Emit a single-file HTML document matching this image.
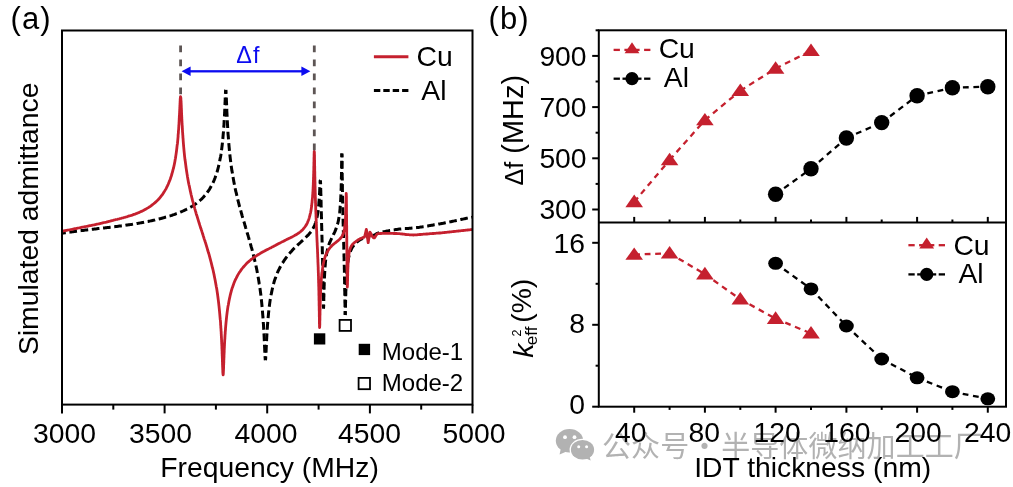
<!DOCTYPE html>
<html lang="en"><head><meta charset="utf-8"><title>Simulated admittance and IDT thickness dependence</title>
<style>
html,body{margin:0;padding:0;background:#fff;}
body{width:1013px;height:487px;overflow:hidden;font-family:"Liberation Sans", "Noto Sans CJK SC", sans-serif;}
svg{display:block;filter:blur(0.35px);}
text{font-family:"Liberation Sans", "Noto Sans CJK SC", sans-serif;fill:#000;}
.t{font-size:28.3px;}
.wm{font-family:"Noto Sans CJK SC","Liberation Sans",sans-serif;fill:#b2b2b2;}
</style></head><body>
<svg width="1013" height="487" viewBox="0 0 1013 487" role="img" aria-label="Simulated admittance of Cu and Al electrodes and IDT thickness dependence">
<rect width="1013" height="487" fill="#fff"/>
<g id="watermark" opacity="1">
<g fill="#b2b2b2">
<ellipse cx="569.5" cy="440.7" rx="13.7" ry="11.7"/>
<polygon points="560.6,449.5 559.6,454.4 566.5,451.6"/>
<ellipse cx="582.5" cy="449.8" rx="12.9" ry="11.1" fill="#fff"/>
<ellipse cx="582.5" cy="449.8" rx="11.6" ry="9.8"/>
<polygon points="586.2,458.6 590.6,460.6 589.6,456.4"/>
</g>
<g fill="#fff">
<circle cx="565" cy="437.2" r="1.9"/><circle cx="574.5" cy="437.2" r="1.9"/>
<circle cx="578.7" cy="446.7" r="1.5"/><circle cx="586.6" cy="446.7" r="1.5"/>
</g>
<text class="wm" y="456.6" font-size="29"><tspan x="602" letter-spacing="0.1">公众号</tspan><tspan x="704.4" text-anchor="middle">·</tspan><tspan x="721.2" letter-spacing="0.08">半导体微纳加工工厂</tspan></text>
</g>
<g id="panel-a">
<text x="10.6" y="29" font-size="31" letter-spacing="1.1">(a)</text>
<clipPath id="ca"><rect x="62.0" y="30.5" width="410.5" height="374.1"/></clipPath>
<g clip-path="url(#ca)" fill="none" stroke-linejoin="round">
<path d="M62.0 233.1 L62.9 233.0 L63.8 232.9 L64.8 232.8 L65.7 232.7 L66.6 232.6 L67.5 232.4 L68.5 232.3 L69.4 232.2 L70.3 232.1 L71.2 232.0 L72.2 231.8 L73.1 231.7 L74.0 231.6 L74.9 231.5 L75.9 231.3 L76.8 231.2 L77.7 231.1 L78.6 231.0 L79.5 230.9 L80.5 230.7 L81.4 230.6 L82.3 230.5 L83.2 230.4 L84.2 230.3 L85.1 230.1 L86.0 230.0 L86.9 229.9 L87.9 229.8 L88.8 229.7 L89.7 229.6 L90.6 229.5 L91.6 229.4 L92.5 229.3 L93.4 229.2 L94.3 229.1 L95.3 229.0 L96.2 228.9 L97.1 228.7 L98.0 228.6 L98.9 228.5 L99.9 228.4 L100.8 228.3 L101.7 228.2 L102.6 228.1 L103.6 228.0 L104.5 227.9 L105.4 227.8 L106.3 227.7 L107.3 227.6 L108.2 227.5 L109.1 227.4 L110.0 227.3 L111.0 227.2 L111.9 227.0 L112.8 226.9 L113.7 226.8 L114.6 226.7 L115.6 226.6 L116.5 226.5 L117.4 226.4 L118.3 226.2 L119.3 226.1 L120.2 226.0 L121.1 225.9 L122.0 225.8 L123.0 225.6 L123.9 225.5 L124.8 225.4 L125.7 225.2 L126.7 225.1 L127.6 225.0 L128.5 224.8 L129.4 224.7 L130.3 224.6 L131.3 224.4 L132.2 224.3 L133.1 224.1 L134.0 224.0 L135.0 223.8 L135.9 223.7 L136.8 223.5 L137.7 223.4 L138.7 223.2 L139.6 223.1 L140.5 222.9 L141.4 222.7 L142.4 222.5 L143.3 222.4 L144.2 222.2 L145.1 222.0 L146.0 221.8 L147.0 221.6 L147.9 221.5 L148.8 221.3 L149.7 221.1 L150.7 220.9 L151.6 220.7 L152.5 220.5 L153.4 220.3 L154.4 220.1 L155.3 219.8 L156.2 219.6 L157.1 219.4 L158.1 219.2 L159.0 219.0 L159.9 218.7 L160.8 218.5 L161.8 218.2 L162.7 218.0 L163.6 217.7 L164.5 217.5 L165.4 217.2 L166.4 217.0 L167.3 216.7 L168.2 216.4 L169.1 216.1 L170.1 215.9 L171.0 215.6 L171.9 215.3 L172.8 214.9 L173.8 214.6 L174.7 214.3 L175.6 214.0 L176.5 213.6 L177.5 213.3 L178.4 212.9 L179.3 212.6 L180.2 212.2 L181.1 211.8 L182.1 211.4 L183.0 211.0 L183.9 210.6 L184.8 210.2 L185.8 209.7 L186.7 209.2 L187.6 208.8 L188.5 208.3 L189.5 207.8 L190.4 207.3 L191.3 206.7 L192.2 206.2 L193.2 205.6 L194.1 205.0 L195.0 204.3 L195.9 203.7 L196.8 203.0 L197.8 202.3 L198.7 201.6 L199.6 200.8 L200.5 200.0 L201.5 199.1 L202.4 198.2 L203.3 197.3 L204.2 196.2 L205.1 195.3 L205.9 194.3 L206.6 193.4 L207.3 192.4 L208.0 191.4 L208.7 190.5 L209.3 189.6 L209.9 188.6 L210.5 187.5 L211.0 186.6 L211.5 185.7 L212.0 184.7 L212.6 183.7 L213.1 182.6 L213.5 181.7 L213.9 180.7 L214.3 179.8 L214.7 178.7 L215.1 177.7 L215.5 176.5 L215.9 175.4 L216.2 174.5 L216.6 173.5 L216.9 172.5 L217.2 171.5 L217.5 170.4 L217.8 169.3 L218.1 168.2 L218.4 167.0 L218.7 165.7 L219.0 164.3 L219.2 163.4 L219.4 162.5 L219.6 161.5 L219.8 160.4 L220.0 159.4 L220.2 158.3 L220.5 157.1 L220.7 155.9 L220.9 154.7 L221.1 153.3 L221.3 152.0 L221.5 150.5 L221.7 149.0 L221.9 147.4 L222.1 145.8 L222.3 144.0 L222.4 143.1 L222.5 142.1 L222.6 141.1 L222.7 140.1 L222.8 139.1 L222.9 138.0 L223.0 136.9 L223.1 135.7 L223.2 134.5 L223.3 133.3 L223.4 132.3 L223.5 131.4 L223.6 130.4 L223.6 129.4 L223.7 128.4 L223.8 127.4 L223.8 126.5 L223.9 125.6 L224.0 124.6 L224.0 123.6 L224.1 122.6 L224.1 121.6 L224.2 120.5 L224.3 119.6 L224.3 118.7 L224.4 117.7 L224.4 116.8 L224.5 115.8 L224.5 114.8 L224.6 113.7 L224.6 112.6 L224.7 111.6 L224.7 110.5 L224.8 109.6 L224.8 108.6 L224.8 107.7 L224.9 106.8 L224.9 105.8 L225.0 104.8 L225.0 103.9 L225.0 102.9 L225.1 101.9 L225.1 100.9 L225.2 99.9 L225.2 99.0 L225.2 98.0 L225.3 97.0 L225.3 96.1 L225.4 95.0 L225.4 94.0 L225.5 93.0 L225.5 92.0 L225.6 91.1 L225.7 90.2 L225.8 90.0" stroke="#000" stroke-width="3.0" stroke-dasharray="7.665 3.631" stroke-dashoffset="3.832"/>
<path d="M225.8 90.0 L226.0 90.9 L226.0 91.9 L226.1 92.9 L226.1 93.9 L226.2 95.0 L226.2 95.9 L226.3 96.8 L226.3 97.8 L226.4 98.8 L226.4 99.9 L226.4 100.9 L226.5 101.9 L226.5 103.0 L226.6 104.0 L226.6 105.1 L226.6 106.1 L226.7 107.1 L226.7 108.2 L226.8 109.2 L226.8 110.2 L226.8 111.1 L226.9 112.1 L226.9 113.0 L227.0 114.0 L227.0 114.9 L227.1 115.8 L227.1 116.9 L227.2 118.0 L227.2 119.1 L227.3 120.1 L227.3 121.1 L227.4 122.1 L227.4 123.1 L227.5 124.1 L227.5 125.0 L227.6 125.9 L227.6 126.8 L227.7 127.9 L227.7 128.9 L227.8 130.0 L227.9 130.9 L227.9 131.9 L228.0 132.9 L228.0 133.8 L228.1 134.7 L228.2 135.7 L228.3 136.7 L228.4 138.1 L228.5 139.5 L228.6 140.8 L228.7 142.1 L228.8 143.3 L228.9 144.5 L229.0 145.7 L229.1 146.8 L229.2 147.9 L229.3 149.0 L229.4 150.1 L229.5 151.1 L229.6 152.1 L229.7 153.1 L229.8 154.1 L229.9 155.0 L230.0 155.9 L230.1 156.8 L230.3 158.6 L230.5 160.3 L230.7 161.9 L230.9 163.5 L231.1 165.0 L231.3 166.5 L231.5 167.9 L231.7 169.3 L231.9 170.7 L232.2 172.0 L232.4 173.2 L232.6 174.5 L232.8 175.7 L233.0 176.9 L233.2 178.1 L233.4 179.2 L233.6 180.3 L233.8 181.4 L234.0 182.5 L234.2 183.5 L234.4 184.6 L234.6 185.6 L234.8 186.6 L235.0 187.6 L235.2 188.5 L235.4 189.5 L235.6 190.4 L235.8 191.4 L236.1 192.3 L236.3 193.2 L236.6 194.5 L236.9 195.8 L237.2 197.1 L237.5 198.4 L237.8 199.6 L238.1 200.8 L238.4 202.0 L238.7 203.2 L239.0 204.4 L239.3 205.6 L239.6 206.7 L240.0 207.9 L240.3 209.0 L240.6 210.1 L240.9 211.2 L241.2 212.3 L241.5 213.4 L241.8 214.5 L242.1 215.6 L242.4 216.6 L242.7 217.7 L243.0 218.7 L243.3 219.8 L243.6 220.8 L244.0 221.9 L244.3 222.9 L244.6 223.9 L244.9 225.0 L245.2 226.0 L245.5 227.0 L245.8 228.1 L246.1 229.1 L246.4 230.1 L246.7 231.2 L247.0 232.2 L247.3 233.2 L247.6 234.3 L248.0 235.3 L248.3 236.4 L248.6 237.4 L248.9 238.5 L249.2 239.5 L249.5 240.6 L249.8 241.7 L250.1 242.7 L250.4 243.8 L250.7 244.9 L251.0 246.0 L251.3 247.2 L251.7 248.3 L252.0 249.4 L252.3 250.6 L252.6 251.8 L252.9 252.9 L253.2 254.1 L253.5 255.4 L253.8 256.6 L254.1 257.8 L254.4 259.1 L254.7 260.4 L255.0 261.8 L255.3 263.1 L255.6 264.0 L255.8 264.9 L256.0 265.9 L256.2 266.8 L256.4 267.8 L256.6 268.8 L256.8 269.8 L257.0 270.8 L257.2 271.9 L257.4 272.9 L257.6 274.0 L257.8 275.1 L258.0 276.3 L258.2 277.4 L258.4 278.6 L258.6 279.8 L258.8 281.0 L259.0 282.3 L259.2 283.6 L259.5 284.9 L259.7 286.3 L259.9 287.7 L260.1 289.2 L260.3 290.7 L260.5 292.2 L260.7 293.8 L260.9 295.5 L261.1 297.3 L261.3 299.1 L261.4 300.0 L261.5 300.9 L261.6 301.9 L261.7 302.9 L261.8 303.9 L261.9 305.0 L262.0 306.0 L262.1 307.1 L262.2 308.2 L262.3 309.4 L262.4 310.6 L262.5 311.8 L262.6 313.1 L262.7 314.3 L262.8 315.7 L262.9 317.0 L263.0 318.0 L263.1 319.0 L263.1 319.9 L263.2 320.9 L263.3 321.9 L263.3 322.8 L263.4 323.8 L263.5 324.7 L263.5 325.8 L263.6 326.8 L263.6 327.8 L263.7 328.9 L263.8 329.8 L263.8 330.7 L263.9 331.7 L263.9 332.7 L264.0 333.6 L264.0 334.6 L264.1 335.7 L264.1 336.7 L264.2 337.8 L264.2 338.8 L264.3 339.9 L264.3 341.0 L264.4 342.2 L264.4 343.1 L264.5 344.0 L264.5 344.9 L264.5 345.9 L264.6 346.8 L264.6 347.7 L264.7 348.7 L264.7 349.6 L264.7 350.5 L264.8 351.4 L264.8 352.4 L264.9 353.5 L264.9 354.5 L265.0 355.5 L265.0 356.5 L265.1 357.5 L265.2 358.5 L265.2 359.4 L265.4 360.2" stroke="#000" stroke-width="3.0" stroke-dasharray="7.751 3.672" stroke-dashoffset="3.876"/>
<path d="M265.4 360.2 L265.6 359.3 L265.7 358.4 L265.7 357.3 L265.8 356.3 L265.9 355.4 L265.9 354.4 L266.0 353.4 L266.0 352.3 L266.1 351.2 L266.1 350.1 L266.2 349.0 L266.2 347.9 L266.3 346.8 L266.3 345.8 L266.4 344.7 L266.4 343.6 L266.5 342.6 L266.5 341.5 L266.6 340.5 L266.6 339.5 L266.7 338.5 L266.7 337.6 L266.8 336.6 L266.8 335.7 L266.9 334.8 L266.9 333.8 L267.0 332.8 L267.1 331.8 L267.1 330.8 L267.2 329.8 L267.2 328.9 L267.3 328.0 L267.4 327.0 L267.4 326.0 L267.5 325.0 L267.6 324.0 L267.7 323.1 L267.7 322.2 L267.8 321.3 L268.0 319.2 L268.1 318.1 L268.2 316.9 L268.3 315.8 L268.4 314.8 L268.5 313.7 L268.6 312.7 L268.7 311.7 L268.8 310.8 L268.9 309.9 L269.1 308.1 L269.3 306.4 L269.5 304.9 L269.7 303.4 L269.9 301.9 L270.1 300.6 L270.3 299.2 L270.5 298.0 L270.7 296.8 L270.9 295.6 L271.1 294.5 L271.4 293.4 L271.6 292.4 L271.8 291.4 L272.0 290.5 L272.2 289.5 L272.5 288.2 L272.8 286.9 L273.1 285.7 L273.4 284.5 L273.7 283.4 L274.0 282.3 L274.3 281.3 L274.6 280.3 L274.9 279.4 L275.3 278.4 L275.7 277.3 L276.1 276.1 L276.5 275.1 L276.9 274.0 L277.3 273.0 L277.7 272.1 L278.1 271.2 L278.6 270.1 L279.2 269.0 L279.7 268.0 L280.2 267.0 L280.7 266.1 L281.2 265.2 L281.8 264.1 L282.4 263.1 L283.1 262.2 L283.7 261.2 L284.4 260.2 L285.1 259.2 L285.8 258.2 L286.5 257.2 L287.3 256.3 L288.0 255.4 L288.8 254.4 L289.6 253.4 L290.4 252.4 L291.3 251.5 L292.1 250.6 L293.0 249.6 L293.9 248.6 L294.9 247.7 L295.8 246.8 L296.7 245.9 L297.6 245.0 L298.6 244.2 L299.5 243.3 L300.4 242.5 L301.3 241.6 L302.2 240.8 L303.2 239.9 L304.1 239.0 L305.0 238.2 L305.9 237.3 L306.9 236.3 L307.8 235.4 L308.7 234.4 L309.5 233.4 L310.4 232.4 L311.1 231.5 L311.8 230.5 L312.4 229.5 L313.0 228.5 L313.5 227.6 L314.0 226.6 L314.6 225.4 L315.0 224.4 L315.4 223.3 L315.7 222.4 L316.0 221.4 L316.3 220.4 L316.6 219.2 L316.9 217.8 L317.1 216.9 L317.3 215.8 L317.5 214.7 L317.7 213.4 L317.9 212.1 L318.1 211.1 L318.2 210.2 L318.3 209.3 L318.4 208.3 L318.5 207.4 L318.6 206.5 L318.7 205.5 L318.8 204.6 L318.9 203.7 L318.9 202.6 L319.0 201.7 L319.1 200.7 L319.2 199.7 L319.2 198.8 L319.3 197.8 L319.3 196.8 L319.4 195.8 L319.5 194.9 L319.5 193.9 L319.6 193.0 L319.6 192.0 L319.7 191.0 L319.7 189.9 L319.8 188.8 L319.8 187.7 L319.9 186.6 L319.9 185.5 L320.0 184.5 L320.0 183.4 L320.1 182.5 L320.1 181.5 L320.2 180.6 L320.4 180.4" stroke="#000" stroke-width="3.0" stroke-dasharray="7.816 3.702" stroke-dashoffset="3.908"/>
<path d="M320.4 180.4 L320.5 181.3 L320.5 182.2 L320.6 183.1 L320.6 184.0 L320.6 185.2 L320.7 186.2 L320.7 187.3 L320.7 188.4 L320.7 189.5 L320.8 190.7 L320.8 191.9 L320.8 193.1 L320.9 194.4 L320.9 195.6 L320.9 196.9 L321.0 198.1 L321.0 199.4 L321.0 200.6 L321.1 201.9 L321.1 203.2 L321.1 204.4 L321.1 205.7 L321.2 206.9 L321.2 208.1 L321.2 209.4 L321.3 210.6 L321.3 211.8 L321.3 213.0 L321.4 214.2 L321.4 215.4 L321.4 216.5 L321.5 217.7 L321.5 218.9 L321.5 220.1 L321.5 221.2 L321.6 222.4 L321.6 223.5 L321.6 224.6 L321.7 225.8 L321.7 226.9 L321.7 228.1 L321.8 229.2 L321.8 230.4 L321.8 231.5 L321.9 232.6 L321.9 233.8 L321.9 234.9 L321.9 236.0 L322.0 237.2 L322.0 238.3 L322.0 239.5 L322.1 240.6 L322.1 241.8 L322.1 242.9 L322.2 244.1 L322.2 245.3 L322.2 246.5 L322.3 247.6 L322.3 248.9 L322.3 250.1 L322.3 251.3 L322.4 252.5 L322.4 253.8 L322.4 255.0 L322.5 256.3 L322.5 257.6 L322.5 258.5 L322.6 259.8 L322.6 260.7 L322.6 261.6 L322.6 262.6 L322.6 263.5 L322.7 264.4 L322.7 265.3 L322.7 266.3 L322.7 267.3 L322.7 268.2 L322.8 269.2 L322.8 270.2 L322.8 271.3 L322.8 272.3 L322.8 273.3 L322.9 274.4 L322.9 275.5 L322.9 276.6 L322.9 277.7 L322.9 278.9 L323.0 280.0 L323.0 281.2 L323.0 282.4 L323.0 283.6 L323.0 284.8 L323.1 286.0 L323.1 287.3 L323.1 288.5 L323.1 289.8 L323.2 291.1 L323.2 292.4 L323.2 293.7 L323.2 295.0 L323.2 296.4 L323.3 297.7 L323.3 298.9 L323.3 300.2 L323.3 301.1 L323.3 302.1 L323.3 303.0 L323.4 303.9 L323.4 304.9 L323.4 305.8 L323.4 306.7 L323.5 307.6 L323.5 308.5" stroke="#000" stroke-width="3.0" stroke-dasharray="7.905 3.744" stroke-dashoffset="3.952"/>
<path d="M323.5 308.5 L323.6 307.6 L323.6 306.7 L323.7 305.8 L323.7 304.8 L323.7 303.6 L323.7 302.2 L323.8 301.3 L323.8 300.4 L323.8 299.4 L323.8 298.5 L323.8 297.6 L323.9 296.7 L323.9 295.4 L323.9 294.5 L324.0 293.2 L324.0 291.9 L324.0 290.7 L324.0 289.6 L324.1 288.5 L324.1 287.4 L324.1 286.3 L324.2 285.3 L324.2 284.4 L324.2 283.5 L324.3 282.3 L324.3 281.2 L324.4 280.1 L324.4 279.0 L324.4 278.0 L324.5 277.1 L324.5 276.2 L324.6 275.1 L324.6 274.1 L324.7 273.1 L324.7 272.2 L324.8 271.3 L324.8 270.3 L324.9 269.3 L325.0 268.4 L325.0 267.4 L325.1 266.4 L325.2 265.5 L325.3 264.6 L325.3 263.7 L325.4 262.7 L325.5 261.7 L325.6 260.8 L325.7 259.9 L325.8 258.9 L326.0 258.0 L326.2 256.6 L326.4 255.2 L326.6 254.0 L326.8 252.9 L327.0 251.8 L327.2 250.9 L327.5 249.5 L327.8 248.3 L328.1 247.2 L328.4 246.2 L328.7 245.3 L329.1 244.1 L329.5 243.0 L330.0 242.0 L330.4 241.0 L330.8 240.1 L331.3 239.0 L331.8 238.0 L332.3 236.9 L332.8 235.9 L333.3 234.8 L333.9 233.8 L334.4 232.7 L334.9 231.6 L335.3 230.6 L335.7 229.6 L336.1 228.6 L336.5 227.4 L336.8 226.5 L337.1 225.5 L337.4 224.4 L337.8 223.3 L338.1 222.0 L338.3 221.1 L338.5 220.1 L338.7 219.0 L338.9 217.8 L339.1 216.6 L339.3 215.2 L339.4 214.1 L339.5 213.2 L339.7 212.2 L339.8 211.3 L339.9 210.3 L340.0 209.4 L340.1 208.4 L340.1 207.4 L340.2 206.4 L340.3 205.5 L340.4 204.5 L340.4 203.5 L340.5 202.5 L340.6 201.6 L340.6 200.5 L340.7 199.6 L340.7 198.6 L340.8 197.6 L340.8 196.6 L340.9 195.4 L340.9 194.5 L341.0 193.5 L341.0 192.5 L341.0 191.4 L341.1 190.2 L341.1 189.0 L341.2 188.1 L341.2 187.1 L341.2 186.1 L341.2 185.0 L341.3 183.9 L341.3 182.7 L341.3 181.4 L341.4 180.2 L341.4 178.8 L341.4 177.9 L341.4 176.9 L341.5 175.9 L341.5 174.9 L341.5 173.8 L341.5 172.7 L341.5 171.5 L341.6 170.4 L341.6 169.2 L341.6 167.9 L341.6 166.6 L341.6 165.3 L341.7 164.0 L341.7 162.7 L341.7 161.7 L341.7 160.8 L341.7 159.9 L341.7 159.0 L341.8 158.1 L341.8 157.1 L341.8 156.2 L341.8 155.2 L341.8 154.3 L341.9 153.5" stroke="#000" stroke-width="3.0" stroke-dasharray="7.649 3.623" stroke-dashoffset="3.825"/>
<path d="M341.9 153.5 L341.9 154.4 L342.0 155.3 L342.0 156.2 L342.0 157.2 L342.0 158.1 L342.0 159.1 L342.0 160.0 L342.0 160.9 L342.1 161.9 L342.1 162.8 L342.1 163.7 L342.1 164.7 L342.1 165.6 L342.1 166.5 L342.1 168.2 L342.2 169.9 L342.2 171.6 L342.2 173.3 L342.2 174.9 L342.2 176.4 L342.3 178.0 L342.3 179.5 L342.3 181.0 L342.3 182.4 L342.3 183.8 L342.4 185.2 L342.4 186.6 L342.4 187.9 L342.4 189.2 L342.4 190.4 L342.5 191.7 L342.5 192.9 L342.5 194.0 L342.5 195.2 L342.5 196.3 L342.6 197.4 L342.6 198.5 L342.6 199.6 L342.6 200.7 L342.6 201.7 L342.7 202.7 L342.7 203.8 L342.7 204.7 L342.7 205.7 L342.8 206.7 L342.8 207.6 L342.8 208.6 L342.8 209.5 L342.8 210.4 L342.9 211.3 L342.9 212.5 L342.9 213.6 L342.9 214.7 L343.0 215.7 L343.0 216.8 L343.0 217.8 L343.0 218.9 L343.1 219.9 L343.1 221.0 L343.1 221.9 L343.1 223.0 L343.2 224.0 L343.2 225.0 L343.2 225.9 L343.2 226.9 L343.3 227.9 L343.3 228.9 L343.3 229.8 L343.3 230.8 L343.4 231.7 L343.4 232.7 L343.4 233.6 L343.4 234.6 L343.5 235.5 L343.5 236.5 L343.5 237.4 L343.5 238.3 L343.6 239.3 L343.6 240.2 L343.6 241.1 L343.7 242.1 L343.7 243.0 L343.7 244.0 L343.7 244.9 L343.8 245.9 L343.8 246.8 L343.8 247.8 L343.8 248.7 L343.9 249.7 L343.9 250.7 L343.9 251.7 L343.9 252.6 L344.0 253.6 L344.0 254.6 L344.0 255.6 L344.0 256.6 L344.1 257.6 L344.1 258.7 L344.1 259.7 L344.1 260.7 L344.2 261.8 L344.2 262.9 L344.2 264.0 L344.2 265.0 L344.3 266.2 L344.3 267.3 L344.3 268.2 L344.3 269.1 L344.4 270.0 L344.4 271.2 L344.4 272.2 L344.4 273.1 L344.4 274.1 L344.5 275.1 L344.5 276.1 L344.5 277.1 L344.5 278.2 L344.5 279.2 L344.6 280.3 L344.6 281.4 L344.6 282.5 L344.6 283.6 L344.6 284.7 L344.7 285.9 L344.7 287.0 L344.7 288.2 L344.7 289.4 L344.7 290.7 L344.8 291.9 L344.8 293.2 L344.8 294.5 L344.8 295.8 L344.9 297.1 L344.9 298.4 L344.9 299.8 L344.9 301.1 L344.9 302.5 L345.0 303.8 L345.0 305.1 L345.0 306.4 L345.0 307.4 L345.0 308.3 L345.0 309.2 L345.1 310.2 L345.1 311.1 L345.1 312.0 L345.1 312.9 L345.1 313.8 L345.2 314.7 L345.2 315.0" stroke="#000" stroke-width="3.0" stroke-dasharray="7.830 3.709" stroke-dashoffset="3.915"/>
<path d="M345.2 315.0 L345.3 314.1 L345.3 313.2 L345.4 312.3 L345.4 311.4 L345.4 310.4 L345.4 309.2 L345.4 308.3 L345.5 307.3 L345.5 306.3 L345.5 305.3 L345.5 304.4 L345.5 303.4 L345.6 302.5 L345.6 301.6 L345.6 300.7 L345.6 299.3 L345.7 298.0 L345.7 296.8 L345.7 295.6 L345.8 294.7 L345.8 293.7 L345.8 292.6 L345.8 291.6 L345.9 290.6 L345.9 289.6 L345.9 288.7 L346.0 287.5 L346.0 286.4 L346.1 285.3 L346.1 284.3 L346.1 283.3 L346.2 282.4 L346.2 281.5 L346.3 280.5 L346.3 279.6 L346.4 278.6 L346.4 277.6 L346.5 276.7 L346.5 275.7 L346.6 274.8 L346.7 273.9 L346.7 272.8 L346.8 271.9 L346.9 271.0 L347.0 270.0 L347.0 269.1 L347.1 268.1 L347.2 267.2 L347.3 266.2 L347.4 265.3 L347.5 264.4 L347.7 263.4 L347.8 262.4 L348.0 261.0 L348.2 259.8 L348.4 258.7 L348.6 257.7 L348.8 256.8 L349.1 255.5 L349.5 254.3 L349.8 253.3 L350.1 252.4 L350.5 251.3 L350.9 250.3 L351.3 249.4 L351.8 248.4 L352.3 247.4 L352.9 246.5 L353.7 245.5 L354.5 244.5 L355.4 243.5 L356.3 242.6 L357.3 241.8 L358.2 241.1 L359.1 240.4 L360.0 239.8 L360.9 239.3 L361.9 238.8 L362.8 238.3 L363.7 237.8 L364.6 237.4 L365.2 236.4 L365.7 235.4 L366.2 234.5 L367.0 235.5 L367.4 236.5 L367.8 237.5 L368.7 237.0 L369.2 236.0 L369.6 235.0 L370.5 234.4 L371.4 234.8 L372.3 235.1 L373.3 235.3 L374.2 235.4 L375.1 234.7 L376.0 234.1 L377.0 233.4 L377.9 233.1 L378.8 232.8 L379.7 232.6 L380.7 232.4 L381.6 232.2 L382.5 232.0 L383.4 231.8 L384.3 231.6 L385.3 231.4 L386.2 231.2 L387.1 231.0 L388.0 230.9 L389.0 230.7 L389.9 230.5 L390.8 230.4 L391.7 230.2 L392.7 230.1 L393.6 229.9 L394.5 229.8 L395.4 229.6 L396.4 229.5 L397.3 229.4 L398.2 229.2 L399.1 229.1 L400.0 229.0 L401.0 229.0 L401.9 228.9 L402.8 228.8 L403.7 228.7 L404.7 228.6 L405.6 228.6 L406.5 228.5 L407.4 228.4 L408.4 228.4 L409.3 228.3 L410.2 228.2 L411.1 228.2 L412.1 228.1 L413.0 228.0 L413.9 227.9 L414.8 227.8 L415.7 227.7 L416.7 227.6 L417.6 227.5 L418.5 227.4 L419.4 227.3 L420.4 227.1 L421.3 227.0 L422.2 226.9 L423.1 226.7 L424.1 226.6 L425.0 226.4 L425.9 226.3 L426.8 226.1 L427.8 226.0 L428.7 225.8 L429.6 225.6 L430.5 225.5 L431.4 225.3 L432.4 225.2 L433.3 225.0 L434.2 224.8 L435.1 224.7 L436.1 224.5 L437.0 224.4 L437.9 224.2 L438.8 224.0 L439.8 223.9 L440.7 223.7 L441.6 223.5 L442.5 223.4 L443.5 223.2 L444.4 223.0 L445.3 222.8 L446.2 222.6 L447.2 222.5 L448.1 222.3 L449.0 222.1 L449.9 221.9 L450.8 221.7 L451.8 221.5 L452.7 221.3 L453.6 221.1 L454.5 220.9 L455.5 220.7 L456.4 220.5 L457.3 220.3 L458.2 220.1 L459.2 219.9 L460.1 219.7 L461.0 219.5 L461.9 219.3 L462.9 219.1 L463.8 218.9 L464.7 218.7 L465.6 218.5 L466.5 218.3 L467.5 218.1 L468.4 217.9 L469.3 217.8 L470.2 217.6 L471.2 217.4 L472.1 217.2 L472.5 217.1" stroke="#000" stroke-width="3.0" stroke-dasharray="7.640 3.619" stroke-dashoffset="3.820"/>
<path d="M62.0 231.2 L62.9 231.0 L63.8 230.9 L64.8 230.7 L65.7 230.5 L66.6 230.4 L67.5 230.2 L68.5 230.0 L69.4 229.8 L70.3 229.7 L71.2 229.5 L72.2 229.3 L73.1 229.1 L74.0 228.9 L74.9 228.7 L75.9 228.6 L76.8 228.4 L77.7 228.2 L78.6 228.0 L79.5 227.8 L80.5 227.6 L81.4 227.4 L82.3 227.2 L83.2 227.1 L84.2 226.9 L85.1 226.7 L86.0 226.5 L86.9 226.3 L87.9 226.1 L88.8 225.9 L89.7 225.7 L90.6 225.6 L91.6 225.4 L92.5 225.2 L93.4 225.0 L94.3 224.8 L95.3 224.6 L96.2 224.4 L97.1 224.2 L98.0 224.0 L98.9 223.8 L99.9 223.6 L100.8 223.4 L101.7 223.2 L102.6 222.9 L103.6 222.7 L104.5 222.5 L105.4 222.3 L106.3 222.1 L107.3 221.8 L108.2 221.6 L109.1 221.4 L110.0 221.2 L111.0 220.9 L111.9 220.7 L112.8 220.5 L113.7 220.2 L114.6 220.0 L115.6 219.7 L116.5 219.5 L117.4 219.3 L118.3 219.0 L119.3 218.8 L120.2 218.5 L121.1 218.3 L122.0 218.0 L123.0 217.8 L123.9 217.5 L124.8 217.3 L125.7 217.0 L126.7 216.8 L127.6 216.5 L128.5 216.2 L129.4 215.9 L130.3 215.7 L131.3 215.4 L132.2 215.1 L133.1 214.7 L134.0 214.4 L135.0 214.1 L135.9 213.7 L136.8 213.4 L137.7 213.0 L138.7 212.6 L139.6 212.2 L140.5 211.8 L141.4 211.4 L142.4 210.9 L143.3 210.5 L144.2 210.0 L145.1 209.5 L146.0 209.0 L147.0 208.4 L147.9 207.9 L148.8 207.3 L149.7 206.7 L150.7 206.1 L151.6 205.4 L152.5 204.7 L153.4 204.0 L154.4 203.2 L155.3 202.4 L156.2 201.6 L157.1 200.7 L158.1 199.8 L159.0 198.8 L159.8 197.8 L160.6 196.8 L161.3 195.9 L162.1 195.0 L162.8 193.9 L163.4 193.0 L164.0 192.1 L164.6 191.1 L165.2 190.1 L165.8 189.1 L166.3 188.2 L166.8 187.2 L167.3 186.2 L167.8 185.1 L168.2 184.2 L168.6 183.2 L169.0 182.2 L169.4 181.2 L169.9 180.1 L170.3 179.0 L170.7 177.8 L171.0 176.9 L171.3 176.0 L171.6 175.0 L171.9 174.0 L172.2 172.9 L172.5 171.8 L172.8 170.6 L173.1 169.4 L173.5 168.2 L173.8 166.8 L174.0 165.9 L174.2 165.0 L174.4 164.0 L174.6 162.9 L174.8 161.9 L175.0 160.8 L175.2 159.6 L175.4 158.5 L175.6 157.2 L175.8 155.9 L176.0 154.6 L176.2 153.1 L176.4 151.7 L176.6 150.1 L176.8 148.5 L177.0 146.7 L177.1 145.8 L177.2 144.9 L177.4 144.0 L177.5 143.0 L177.6 142.0 L177.7 140.9 L177.8 139.8 L177.9 138.7 L178.0 137.6 L178.1 136.4 L178.1 135.4 L178.2 134.4 L178.3 133.5 L178.4 132.6 L178.4 131.6 L178.5 130.6 L178.6 129.7 L178.7 128.7 L178.7 127.8 L178.8 126.9 L178.8 125.9 L178.9 124.9 L179.0 123.9 L179.0 122.9 L179.1 121.9 L179.1 120.8 L179.2 119.9 L179.2 118.9 L179.3 118.0 L179.3 117.0 L179.4 116.0 L179.5 115.0 L179.5 114.0 L179.6 113.0 L179.6 111.9 L179.7 110.9 L179.7 109.8 L179.8 108.7 L179.8 107.6 L179.9 106.5 L179.9 105.5 L180.0 104.4 L180.0 103.4 L180.1 102.4 L180.1 101.4 L180.2 100.4 L180.2 99.5 L180.3 98.5 L180.4 97.6 L180.5 96.7 L180.8 97.7 L180.9 98.6 L180.9 99.6 L181.0 100.7 L181.1 101.7 L181.1 102.7 L181.2 103.8 L181.2 104.9 L181.3 105.8 L181.3 106.7 L181.3 107.6 L181.4 108.5 L181.4 109.4 L181.5 110.4 L181.5 111.3 L181.5 112.2 L181.6 113.1 L181.6 114.2 L181.7 115.3 L181.7 116.4 L181.8 117.5 L181.8 118.6 L181.9 119.6 L181.9 120.6 L182.0 121.6 L182.0 122.6 L182.1 123.6 L182.1 124.6 L182.2 125.5 L182.3 126.4 L182.3 127.3 L182.4 128.4 L182.4 129.4 L182.5 130.3 L182.5 131.3 L182.6 132.3 L182.7 133.2 L182.7 134.1 L182.8 135.1 L182.9 136.1 L182.9 137.1 L183.0 138.0 L183.1 139.0 L183.2 140.8 L183.3 142.1 L183.4 143.4 L183.5 144.6 L183.6 145.8 L183.7 147.0 L183.8 148.1 L183.9 149.2 L184.0 150.3 L184.1 151.4 L184.2 152.4 L184.3 153.4 L184.4 154.4 L184.5 155.3 L184.6 156.3 L184.7 157.2 L184.8 158.1 L185.0 159.8 L185.3 161.5 L185.5 163.1 L185.7 164.7 L185.9 166.2 L186.1 167.7 L186.3 169.1 L186.5 170.5 L186.7 171.8 L186.9 173.1 L187.1 174.4 L187.3 175.6 L187.5 176.9 L187.7 178.0 L187.9 179.2 L188.1 180.3 L188.3 181.4 L188.5 182.5 L188.7 183.6 L188.9 184.6 L189.2 185.6 L189.4 186.6 L189.6 187.6 L189.8 188.6 L190.0 189.5 L190.2 190.5 L190.4 191.4 L190.6 192.3 L190.9 193.6 L191.2 195.0 L191.5 196.2 L191.8 197.5 L192.1 198.7 L192.4 200.0 L192.7 201.2 L193.1 202.3 L193.4 203.5 L193.7 204.6 L194.0 205.8 L194.3 206.9 L194.6 208.0 L194.9 209.1 L195.2 210.1 L195.5 211.2 L195.8 212.2 L196.1 213.3 L196.4 214.3 L196.7 215.3 L197.1 216.3 L197.4 217.3 L197.7 218.3 L198.0 219.3 L198.3 220.3 L198.6 221.3 L198.9 222.3 L199.2 223.3 L199.5 224.2 L199.8 225.2 L200.1 226.1 L200.4 227.1 L200.7 228.1 L201.1 229.0 L201.4 230.0 L201.7 230.9 L202.0 231.9 L202.3 232.8 L202.6 233.8 L202.9 234.7 L203.2 235.7 L203.5 236.6 L203.8 237.6 L204.1 238.6 L204.4 239.5 L204.8 240.5 L205.1 241.5 L205.4 242.4 L205.7 243.4 L206.0 244.4 L206.3 245.4 L206.6 246.4 L206.9 247.4 L207.2 248.4 L207.5 249.5 L207.8 250.5 L208.1 251.5 L208.4 252.6 L208.8 253.7 L209.1 254.7 L209.4 255.8 L209.7 256.9 L210.0 258.1 L210.3 259.2 L210.6 260.3 L210.9 261.5 L211.2 262.7 L211.5 263.9 L211.8 265.1 L212.1 266.4 L212.4 267.7 L212.8 269.0 L213.1 270.3 L213.3 271.2 L213.5 272.1 L213.7 273.0 L213.9 274.0 L214.1 274.9 L214.3 275.9 L214.5 276.9 L214.7 277.9 L214.9 279.0 L215.1 280.0 L215.3 281.1 L215.5 282.2 L215.7 283.3 L215.9 284.5 L216.1 285.6 L216.3 286.8 L216.6 288.1 L216.8 289.3 L217.0 290.6 L217.2 292.0 L217.4 293.3 L217.6 294.8 L217.8 296.2 L218.0 297.7 L218.2 299.3 L218.4 300.9 L218.6 302.6 L218.8 304.4 L218.9 305.3 L219.0 306.2 L219.1 307.2 L219.2 308.1 L219.3 309.1 L219.4 310.1 L219.5 311.2 L219.6 312.2 L219.7 313.3 L219.8 314.4 L219.9 315.6 L220.0 316.8 L220.1 318.0 L220.2 319.2 L220.4 320.5 L220.5 321.8 L220.6 323.2 L220.6 324.3 L220.7 325.4 L220.8 326.4 L220.8 327.3 L220.9 328.3 L221.0 329.2 L221.0 330.2 L221.1 331.2 L221.2 332.2 L221.2 333.3 L221.3 334.4 L221.3 335.3 L221.4 336.2 L221.4 337.2 L221.5 338.2 L221.5 339.2 L221.6 340.2 L221.6 341.3 L221.7 342.4 L221.7 343.5 L221.8 344.4 L221.8 345.3 L221.9 346.2 L221.9 347.2 L221.9 348.2 L222.0 349.2 L222.0 350.2 L222.1 351.2 L222.1 352.3 L222.1 353.3 L222.2 354.4 L222.2 355.5 L222.3 356.6 L222.3 357.8 L222.4 358.9 L222.4 360.1 L222.4 361.3 L222.5 362.4 L222.5 363.3 L222.5 364.5 L222.6 365.6 L222.6 366.8 L222.7 367.9 L222.7 369.0 L222.8 370.0 L222.8 371.0 L222.8 372.1 L222.9 373.1 L223.0 374.0 L223.1 374.9 L223.3 374.0 L223.3 373.0 L223.4 372.1 L223.4 371.0 L223.5 370.0 L223.5 369.0 L223.6 368.0 L223.6 366.9 L223.6 365.8 L223.7 364.7 L223.7 363.6 L223.8 362.5 L223.8 361.4 L223.8 360.3 L223.9 359.2 L223.9 358.1 L224.0 357.0 L224.0 356.0 L224.0 355.0 L224.1 354.0 L224.1 353.0 L224.2 352.0 L224.2 351.0 L224.2 350.1 L224.3 349.2 L224.3 348.3 L224.4 347.2 L224.4 346.1 L224.5 345.0 L224.5 344.0 L224.6 343.0 L224.6 342.1 L224.7 341.1 L224.7 340.2 L224.8 339.3 L224.9 338.2 L224.9 337.2 L225.0 336.2 L225.0 335.3 L225.1 334.3 L225.2 333.4 L225.2 332.4 L225.3 331.3 L225.4 330.4 L225.5 329.4 L225.5 328.5 L225.7 326.4 L225.8 325.2 L225.9 324.1 L226.0 322.9 L226.1 321.9 L226.2 320.8 L226.3 319.8 L226.4 318.8 L226.5 317.9 L226.6 316.9 L226.8 315.2 L227.0 313.5 L227.2 311.9 L227.4 310.4 L227.6 309.0 L227.8 307.6 L228.0 306.3 L228.3 305.0 L228.5 303.8 L228.7 302.7 L228.9 301.6 L229.1 300.5 L229.3 299.5 L229.5 298.5 L229.7 297.6 L229.9 296.7 L230.2 295.3 L230.5 294.1 L230.8 292.9 L231.1 291.8 L231.4 290.7 L231.7 289.6 L232.0 288.6 L232.4 287.6 L232.7 286.7 L233.1 285.5 L233.5 284.4 L233.9 283.3 L234.3 282.3 L234.7 281.3 L235.1 280.4 L235.5 279.5 L236.1 278.4 L236.6 277.4 L237.1 276.4 L237.6 275.4 L238.2 274.4 L238.8 273.4 L239.4 272.4 L240.1 271.5 L240.8 270.4 L241.5 269.4 L242.2 268.5 L243.0 267.5 L243.9 266.5 L244.7 265.6 L245.6 264.6 L246.5 263.6 L247.4 262.7 L248.4 261.9 L249.3 261.0 L250.2 260.3 L251.1 259.5 L252.1 258.8 L253.0 258.1 L253.9 257.4 L254.8 256.8 L255.8 256.2 L256.7 255.6 L257.6 255.0 L258.5 254.4 L259.5 253.9 L260.4 253.3 L261.3 252.8 L262.2 252.3 L263.1 251.8 L264.1 251.3 L265.0 250.8 L265.9 250.3 L266.8 249.8 L267.8 249.4 L268.7 248.9 L269.6 248.4 L270.5 247.9 L271.5 247.4 L272.4 246.9 L273.3 246.5 L274.2 246.0 L275.2 245.5 L276.1 245.0 L277.0 244.5 L277.9 244.0 L278.8 243.5 L279.8 243.1 L280.7 242.6 L281.6 242.1 L282.5 241.6 L283.5 241.2 L284.4 240.7 L285.3 240.2 L286.2 239.8 L287.2 239.3 L288.1 238.9 L289.0 238.4 L289.9 238.0 L290.9 237.5 L291.8 237.1 L292.7 236.6 L293.6 236.1 L294.5 235.6 L295.5 235.1 L296.4 234.5 L297.3 234.0 L298.2 233.3 L299.2 232.7 L300.1 232.0 L301.0 231.2 L301.9 230.4 L302.9 229.4 L303.7 228.5 L304.5 227.5 L305.2 226.5 L305.8 225.6 L306.5 224.6 L307.0 223.6 L307.5 222.6 L307.9 221.6 L308.3 220.6 L308.7 219.5 L309.0 218.6 L309.3 217.6 L309.6 216.5 L309.9 215.3 L310.2 214.0 L310.5 213.1 L310.7 212.1 L310.9 211.0 L311.1 209.8 L311.3 208.5 L311.5 207.1 L311.7 205.5 L311.8 204.3 L311.9 203.3 L312.1 202.4 L312.1 201.5 L312.2 200.5 L312.3 199.5 L312.4 198.6 L312.5 197.6 L312.6 196.7 L312.6 195.7 L312.7 194.7 L312.8 193.8 L312.8 192.9 L312.9 191.9 L313.0 190.8 L313.0 189.9 L313.1 189.0 L313.1 188.0 L313.2 187.0 L313.2 185.9 L313.3 185.0 L313.3 184.0 L313.3 183.1 L313.4 182.0 L313.4 181.0 L313.5 179.9 L313.5 178.7 L313.5 177.7 L313.6 176.6 L313.6 175.6 L313.6 174.6 L313.7 173.5 L313.7 172.5 L313.7 171.3 L313.8 170.2 L313.8 169.0 L313.8 167.8 L313.8 166.8 L313.9 165.6 L313.9 164.3 L313.9 163.4 L313.9 162.5 L314.0 161.5 L314.0 160.6 L314.0 159.6 L314.0 158.7 L314.0 157.8 L314.1 156.8 L314.1 155.9 L314.1 155.0 L314.1 154.1 L314.2 153.2 L314.2 152.3 L314.2 151.4 L314.4 152.3 L314.4 153.2 L314.4 154.1 L314.5 155.1 L314.5 156.0 L314.5 157.0 L314.5 158.3 L314.5 159.5 L314.6 160.6 L314.6 161.8 L314.6 162.9 L314.6 164.1 L314.6 165.3 L314.7 166.4 L314.7 167.6 L314.7 168.7 L314.7 169.8 L314.7 171.0 L314.8 172.0 L314.8 173.1 L314.8 174.2 L314.8 175.2 L314.8 176.2 L314.9 177.2 L314.9 178.2 L314.9 179.2 L314.9 180.2 L314.9 181.1 L315.0 182.0 L315.0 182.9 L315.0 184.3 L315.0 185.6 L315.1 186.6 L315.1 187.7 L315.1 188.9 L315.2 190.1 L315.2 191.2 L315.2 192.4 L315.3 193.5 L315.3 194.6 L315.3 195.7 L315.3 196.7 L315.4 197.8 L315.4 198.8 L315.4 199.8 L315.5 200.8 L315.5 201.7 L315.5 202.7 L315.6 203.6 L315.6 204.5 L315.6 205.5 L315.7 206.6 L315.7 207.8 L315.7 209.0 L315.8 210.1 L315.8 211.2 L315.9 212.3 L315.9 213.4 L316.0 214.5 L316.0 215.6 L316.0 216.6 L316.1 217.7 L316.1 218.7 L316.2 219.7 L316.2 220.7 L316.2 221.7 L316.3 222.7 L316.3 223.7 L316.4 224.7 L316.4 225.6 L316.4 226.6 L316.5 227.5 L316.5 228.5 L316.6 229.4 L316.6 230.4 L316.7 231.3 L316.7 232.3 L316.7 233.2 L316.8 235.1 L316.9 237.5 L317.0 239.8 L317.1 242.1 L317.2 243.1 L317.2 244.0 L317.2 244.9 L317.3 245.9 L317.3 246.8 L317.4 247.8 L317.4 248.7 L317.5 249.7 L317.5 250.6 L317.5 251.6 L317.6 252.6 L317.6 253.6 L317.7 254.6 L317.7 255.6 L317.7 256.6 L317.8 257.6 L317.8 258.6 L317.9 259.7 L317.9 260.7 L317.9 261.8 L318.0 262.9 L318.0 264.0 L318.1 265.1 L318.1 266.2 L318.2 267.3 L318.2 268.5 L318.2 269.7 L318.3 270.6 L318.3 271.5 L318.3 272.4 L318.4 273.3 L318.4 274.3 L318.4 275.3 L318.5 276.3 L318.5 277.3 L318.5 278.3 L318.5 279.3 L318.6 280.4 L318.6 281.5 L318.6 282.6 L318.7 283.7 L318.7 284.9 L318.7 286.0 L318.8 287.2 L318.8 288.5 L318.8 289.7 L318.9 291.0 L318.9 292.3 L318.9 293.2 L318.9 294.2 L318.9 295.1 L319.0 296.1 L319.0 297.0 L319.0 298.0 L319.0 299.0 L319.0 300.1 L319.1 301.1 L319.1 302.2 L319.1 303.3 L319.1 304.4 L319.1 305.5 L319.2 306.7 L319.2 307.8 L319.2 309.0 L319.2 310.2 L319.3 311.5 L319.3 312.7 L319.3 314.0 L319.3 315.2 L319.3 316.5 L319.4 317.8 L319.4 319.0 L319.4 320.3 L319.4 321.2 L319.4 322.1 L319.4 323.0 L319.5 324.0 L319.5 324.9 L319.5 325.8 L319.5 326.7 L319.6 327.6 L319.7 326.7 L319.7 325.8 L319.8 324.9 L319.8 324.0 L319.8 323.0 L319.8 322.0 L319.8 321.0 L319.9 320.0 L319.9 318.9 L319.9 318.0 L319.9 316.9 L319.9 315.8 L320.0 314.8 L320.0 313.8 L320.0 312.9 L320.0 311.9 L320.0 311.0 L320.1 310.1 L320.1 308.7 L320.1 307.4 L320.2 306.2 L320.2 305.0 L320.2 303.9 L320.2 302.8 L320.3 301.7 L320.3 300.7 L320.3 299.7 L320.4 298.7 L320.4 297.8 L320.4 296.6 L320.5 295.5 L320.5 294.4 L320.6 293.4 L320.6 292.4 L320.6 291.4 L320.7 290.5 L320.7 289.4 L320.8 288.4 L320.8 287.4 L320.9 286.4 L320.9 285.5 L321.0 284.4 L321.1 283.4 L321.1 282.5 L321.2 281.6 L321.3 280.6 L321.3 279.6 L321.4 278.7 L321.5 277.7 L321.6 276.7 L321.7 275.8 L321.7 274.9 L321.8 274.0 L321.9 273.0 L322.0 272.1 L322.2 271.2 L322.4 269.6 L322.6 268.1 L322.8 266.8 L323.0 265.6 L323.2 264.4 L323.4 263.4 L323.6 262.4 L323.8 261.5 L324.1 260.3 L324.4 259.1 L324.7 258.1 L325.0 257.1 L325.4 256.0 L325.8 254.9 L326.3 253.9 L326.8 252.8 L327.3 251.9 L327.8 251.0 L328.4 250.0 L329.1 248.9 L329.9 248.0 L330.7 247.0 L331.6 246.0 L332.5 245.1 L333.4 244.3 L334.4 243.5 L335.3 242.8 L336.2 242.1 L337.1 241.4 L338.1 240.6 L339.0 239.8 L339.9 239.0 L340.8 237.9 L341.6 237.0 L342.2 236.0 L342.7 235.0 L343.1 234.1 L343.5 233.0 L343.8 231.9 L344.0 231.0 L344.2 230.0 L344.4 229.1 L344.6 228.2 L344.7 227.3 L344.8 226.3 L344.9 225.4 L345.0 224.5 L345.1 223.6 L345.2 222.6 L345.3 221.7 L345.3 220.7 L345.4 219.8 L345.5 218.8 L345.5 217.9 L345.6 217.0 L345.6 216.0 L345.6 215.0 L345.7 214.0 L345.7 213.1 L345.8 212.1 L345.8 211.1 L345.8 210.2 L345.8 209.1 L345.9 208.0 L345.9 207.1 L345.9 206.0 L346.0 205.0 L346.0 203.9 L346.0 203.0 L346.0 202.0 L346.0 201.0 L346.1 200.0 L346.1 199.0 L346.1 198.1 L346.1 197.2 L346.1 196.3 L346.2 195.4 L346.2 194.5 L346.2 193.5 L346.3 194.5 L346.3 195.4 L346.4 196.3 L346.4 197.2 L346.4 198.2 L346.4 199.1 L346.4 200.1 L346.4 201.1 L346.4 202.0 L346.4 203.0 L346.4 203.9 L346.5 204.9 L346.5 205.8 L346.5 206.8 L346.5 207.8 L346.5 208.7 L346.5 209.7 L346.5 210.6 L346.5 211.7 L346.5 212.8 L346.5 213.9 L346.6 215.0 L346.6 216.1 L346.6 217.2 L346.6 218.3 L346.6 219.4 L346.6 220.5 L346.6 221.6 L346.6 222.6 L346.6 223.7 L346.6 224.8 L346.7 225.9 L346.7 226.9 L346.7 228.0 L346.7 229.0 L346.7 230.1 L346.7 231.1 L346.7 232.2 L346.7 233.2 L346.7 234.2 L346.7 235.3 L346.8 236.3 L346.8 237.4 L346.8 238.4 L346.8 239.4 L346.8 240.5 L346.8 241.5 L346.8 242.5 L346.8 243.5 L346.8 244.6 L346.8 245.6 L346.9 246.6 L346.9 247.7 L346.9 248.7 L346.9 249.8 L346.9 250.8 L346.9 251.8 L346.9 252.9 L346.9 253.9 L346.9 255.0 L347.0 256.0 L347.0 257.1 L347.0 258.2 L347.0 259.2 L347.0 260.3 L347.0 261.4 L347.0 262.4 L347.0 263.5 L347.0 264.6 L347.0 265.7 L347.1 266.8 L347.1 267.8 L347.1 268.9 L347.1 270.0 L347.1 271.1 L347.1 272.0 L347.1 273.0 L347.1 273.9 L347.1 274.9 L347.1 275.8 L347.2 276.7 L347.2 277.6 L347.2 278.6 L347.2 279.6 L347.2 280.5 L347.2 281.5 L347.2 282.4 L347.2 283.4 L347.2 284.3 L347.3 285.2 L347.3 286.2 L347.3 287.1 L347.4 286.2 L347.4 285.2 L347.5 284.3 L347.5 283.4 L347.5 282.5 L347.5 281.5 L347.6 280.5 L347.6 279.6 L347.6 278.7 L347.6 277.6 L347.6 276.5 L347.7 275.5 L347.7 274.4 L347.7 273.5 L347.7 272.6 L347.8 271.6 L347.8 270.6 L347.8 269.7 L347.9 268.7 L347.9 267.7 L348.0 266.7 L348.0 265.8 L348.0 264.8 L348.1 263.9 L348.1 263.0 L348.2 262.0 L348.3 261.1 L348.3 260.1 L348.4 259.2 L348.5 258.3 L348.6 257.3 L348.7 256.4 L348.8 255.5 L348.9 254.6 L349.0 253.7 L349.2 252.7 L349.3 251.8 L349.5 250.9 L349.9 249.7 L350.2 248.7 L350.6 247.6 L351.1 246.5 L351.7 245.5 L352.4 244.5 L353.4 243.5 L354.3 242.7 L355.2 242.0 L356.1 241.3 L357.0 240.7 L358.0 240.0 L358.9 239.4 L359.8 238.9 L360.7 238.5 L361.7 238.1 L362.6 237.7 L363.5 237.4 L364.4 237.1 L364.8 235.9 L365.1 235.0 L365.3 234.0 L365.5 233.1 L365.7 232.2 L365.9 231.3 L366.1 230.4 L366.3 229.4 L366.6 230.4 L366.8 232.0 L367.0 233.6 L367.2 235.2 L367.4 236.8 L367.6 238.4 L367.8 239.9 L368.0 241.5 L368.2 242.7 L368.4 241.3 L368.6 240.0 L368.8 238.7 L369.1 237.4 L369.3 236.0 L369.5 234.7 L369.7 233.4 L369.9 232.1 L370.5 233.0 L371.0 234.0 L371.5 235.0 L372.0 235.9 L372.7 236.9 L373.5 237.8 L374.4 237.9 L375.1 236.9 L375.8 235.8 L376.5 234.8 L377.3 233.9 L378.2 233.7 L379.1 233.6 L380.0 233.5 L381.0 233.5 L381.9 233.4 L382.8 233.4 L383.7 233.3 L384.7 233.3 L385.6 233.3 L386.5 233.3 L387.4 233.3 L388.3 233.3 L389.3 233.3 L390.2 233.4 L391.1 233.4 L392.0 233.4 L393.0 233.4 L393.9 233.5 L394.8 233.5 L395.7 233.5 L396.7 233.5 L397.6 233.6 L398.5 233.7 L399.4 233.7 L400.4 233.8 L401.3 233.9 L402.2 234.0 L403.1 234.1 L404.0 234.2 L405.0 234.4 L405.9 234.5 L406.8 234.6 L407.7 234.7 L408.7 234.7 L409.6 234.8 L410.5 234.9 L411.4 234.9 L412.4 234.9 L413.3 235.0 L414.2 234.9 L415.1 234.9 L416.1 234.8 L417.0 234.8 L417.9 234.7 L418.8 234.6 L419.8 234.5 L420.7 234.5 L421.6 234.4 L422.5 234.3 L423.4 234.2 L424.4 234.2 L425.3 234.1 L426.2 234.0 L427.1 234.0 L428.1 233.9 L429.0 233.8 L429.9 233.7 L430.8 233.7 L431.8 233.6 L432.7 233.5 L433.6 233.5 L434.5 233.4 L435.5 233.3 L436.4 233.2 L437.3 233.2 L438.2 233.1 L439.1 233.0 L440.1 233.0 L441.0 232.9 L441.9 232.8 L442.8 232.7 L443.8 232.6 L444.7 232.5 L445.6 232.4 L446.5 232.3 L447.5 232.2 L448.4 232.1 L449.3 232.0 L450.2 231.9 L451.2 231.8 L452.1 231.7 L453.0 231.6 L453.9 231.5 L454.8 231.4 L455.8 231.3 L456.7 231.2 L457.6 231.1 L458.5 231.0 L459.5 230.9 L460.4 230.8 L461.3 230.7 L462.2 230.6 L463.2 230.5 L464.1 230.4 L465.0 230.3 L465.9 230.2 L466.9 230.1 L467.8 230.0 L468.7 229.9 L469.6 229.8 L470.6 229.7 L471.5 229.6 L472.4 229.5 L472.5 229.5" stroke="#c5202e" stroke-width="2.8"/>
</g>
<g stroke="#5d5554" stroke-width="2.8" stroke-dasharray="6.8 7.2">
<line x1="180.6" y1="45.5" x2="180.6" y2="96.5"/>
<line x1="314.3" y1="45.5" x2="314.3" y2="150.5"/>
</g>
<g fill="#0c0cf0" stroke="none">
<rect x="189" y="70.15" width="113.5" height="2.3"/>
<polygon points="181.6,71.3 190.6,66.5 190.6,76.1"/>
<polygon points="310.4,71.3 301.4,66.5 301.4,76.1"/>
</g>
<text x="236.3" y="63.2" font-size="23.4" letter-spacing="1.2" style="fill:#0c0cf0">Δf</text>
<rect x="62.0" y="30.5" width="410.5" height="374.1" fill="none" stroke="#000" stroke-width="2"/>
<g stroke="#000" stroke-width="2">
<line x1="62.0" y1="404.6" x2="62.0" y2="413.4"/>
<line x1="113.3" y1="404.6" x2="113.3" y2="409.6"/>
<line x1="164.6" y1="404.6" x2="164.6" y2="413.4"/>
<line x1="215.9" y1="404.6" x2="215.9" y2="409.6"/>
<line x1="267.2" y1="404.6" x2="267.2" y2="413.4"/>
<line x1="318.6" y1="404.6" x2="318.6" y2="409.6"/>
<line x1="369.9" y1="404.6" x2="369.9" y2="413.4"/>
<line x1="421.2" y1="404.6" x2="421.2" y2="409.6"/>
<line x1="472.5" y1="404.6" x2="472.5" y2="413.4"/>
</g>
<g class="t" text-anchor="middle">
<text x="64.4" y="443">3000</text>
<text x="160.5" y="443">3500</text>
<text x="265.9" y="443">4000</text>
<text x="369.4" y="443">4500</text>
<text x="474.1" y="443">5000</text>
<text x="269.6" y="477">Frequency (MHz)</text>
</g>
<text class="t" text-anchor="middle" transform="translate(37.9 218.8) rotate(-90)" style="font-size:28.35px">Simulated admittance</text>
<line x1="373.9" y1="56.7" x2="408.4" y2="56.7" stroke="#c5202e" stroke-width="3"/>
<line x1="373.9" y1="90.4" x2="408.4" y2="90.4" stroke="#000" stroke-width="3" stroke-dasharray="6.4 3"/>
<text class="t" x="416.5" y="65.7">Cu</text>
<text class="t" x="421.3" y="99.8">Al</text>
<rect x="313.9" y="333.3" width="11.4" height="11.2" fill="#000"/>
<rect x="339.6" y="319.9" width="11.4" height="11" fill="#fff" stroke="#000" stroke-width="1.8"/>
<rect x="358.7" y="343.8" width="11.4" height="11.3" fill="#000"/>
<rect x="358.6" y="377.9" width="11.4" height="11.3" fill="#fff" stroke="#000" stroke-width="1.8"/>
<text x="381.8" y="360.4" font-size="24">Mode-1</text>
<text x="381.8" y="391.4" font-size="24">Mode-2</text>
</g>
<g id="panel-b">
<text x="488.6" y="29.2" font-size="31" letter-spacing="1.1">(b)</text>
<line x1="634.2" y1="201.9" x2="669.6" y2="160.0" stroke="#c5202e" stroke-width="2.3" stroke-dasharray="5.8 4.7"/>
<line x1="669.6" y1="160.0" x2="704.9" y2="120.1" stroke="#c5202e" stroke-width="2.3" stroke-dasharray="5.8 4.7"/>
<line x1="704.9" y1="120.1" x2="740.3" y2="90.7" stroke="#c5202e" stroke-width="2.3" stroke-dasharray="5.8 4.7"/>
<line x1="740.3" y1="90.7" x2="775.6" y2="68.5" stroke="#c5202e" stroke-width="2.3" stroke-dasharray="5.8 4.7"/>
<line x1="775.6" y1="68.5" x2="811.0" y2="50.8" stroke="#c5202e" stroke-width="2.3" stroke-dasharray="5.8 4.7"/>
<polygon points="634.2,194.5 625.4,207.3 643.0,207.3" fill="#c5202e"/>
<polygon points="669.6,152.8 660.8,165.2 678.4,165.2" fill="#c5202e"/>
<polygon points="704.9,112.9 696.1,125.3 713.7,125.3" fill="#c5202e"/>
<polygon points="740.3,83.5 731.5,95.9 749.1,95.9" fill="#c5202e"/>
<polygon points="775.6,61.2 766.8,73.8 784.4,73.8" fill="#c5202e"/>
<polygon points="811.0,43.5 802.2,56.1 819.8,56.1" fill="#c5202e"/>
<line x1="775.6" y1="194.3" x2="811.0" y2="168.7" stroke="#000" stroke-width="2.3" stroke-dasharray="5.8 4.7"/>
<line x1="811.0" y1="168.7" x2="846.4" y2="138.0" stroke="#000" stroke-width="2.3" stroke-dasharray="5.8 4.7"/>
<line x1="846.4" y1="138.0" x2="881.7" y2="122.6" stroke="#000" stroke-width="2.3" stroke-dasharray="5.8 4.7"/>
<line x1="881.7" y1="122.6" x2="917.1" y2="95.7" stroke="#000" stroke-width="2.3" stroke-dasharray="5.8 4.7"/>
<line x1="917.1" y1="95.7" x2="952.4" y2="87.7" stroke="#000" stroke-width="2.3" stroke-dasharray="5.8 4.7"/>
<line x1="952.4" y1="87.7" x2="987.8" y2="86.7" stroke="#000" stroke-width="2.3" stroke-dasharray="5.8 4.7"/>
<circle cx="775.6" cy="194.3" r="7.7" fill="#000"/>
<circle cx="811.0" cy="168.7" r="7.7" fill="#000"/>
<circle cx="846.4" cy="138.0" r="7.7" fill="#000"/>
<circle cx="881.7" cy="122.6" r="7.7" fill="#000"/>
<circle cx="917.1" cy="95.7" r="7.7" fill="#000"/>
<circle cx="952.4" cy="87.7" r="7.7" fill="#000"/>
<circle cx="987.8" cy="86.7" r="7.7" fill="#000"/>
<line x1="634.2" y1="254.6" x2="669.6" y2="253.3" stroke="#c5202e" stroke-width="2.3" stroke-dasharray="5.8 4.7"/>
<line x1="669.6" y1="253.3" x2="704.9" y2="274.2" stroke="#c5202e" stroke-width="2.3" stroke-dasharray="5.8 4.7"/>
<line x1="704.9" y1="274.2" x2="740.3" y2="299.3" stroke="#c5202e" stroke-width="2.3" stroke-dasharray="5.8 4.7"/>
<line x1="740.3" y1="299.3" x2="775.6" y2="318.6" stroke="#c5202e" stroke-width="2.3" stroke-dasharray="5.8 4.7"/>
<line x1="775.6" y1="318.6" x2="811.0" y2="333.4" stroke="#c5202e" stroke-width="2.3" stroke-dasharray="5.8 4.7"/>
<polygon points="634.2,247.4 625.4,259.8 643.0,259.8" fill="#c5202e"/>
<polygon points="669.6,245.9 660.8,258.6 678.4,258.6" fill="#c5202e"/>
<polygon points="704.9,266.8 696.1,279.5 713.7,279.5" fill="#c5202e"/>
<polygon points="740.3,291.9 731.5,304.6 749.1,304.6" fill="#c5202e"/>
<polygon points="775.6,311.2 766.8,323.9 784.4,323.9" fill="#c5202e"/>
<polygon points="811.0,326.1 802.2,338.6 819.8,338.6" fill="#c5202e"/>
<line x1="775.6" y1="263.3" x2="811.0" y2="288.9" stroke="#000" stroke-width="2.3" stroke-dasharray="5.8 4.7"/>
<line x1="811.0" y1="288.9" x2="846.4" y2="326.0" stroke="#000" stroke-width="2.3" stroke-dasharray="5.8 4.7"/>
<line x1="846.4" y1="326.0" x2="881.7" y2="359.0" stroke="#000" stroke-width="2.3" stroke-dasharray="5.8 4.7"/>
<line x1="881.7" y1="359.0" x2="917.1" y2="377.8" stroke="#000" stroke-width="2.3" stroke-dasharray="5.8 4.7"/>
<line x1="917.1" y1="377.8" x2="952.4" y2="391.7" stroke="#000" stroke-width="2.3" stroke-dasharray="5.8 4.7"/>
<line x1="952.4" y1="391.7" x2="987.8" y2="398.8" stroke="#000" stroke-width="2.3" stroke-dasharray="5.8 4.7"/>
<ellipse cx="775.6" cy="263.3" rx="7.4" ry="6.5" fill="#000"/>
<ellipse cx="811.0" cy="288.9" rx="7.4" ry="6.5" fill="#000"/>
<ellipse cx="846.4" cy="326.0" rx="7.4" ry="6.5" fill="#000"/>
<ellipse cx="881.7" cy="359.0" rx="7.4" ry="6.5" fill="#000"/>
<ellipse cx="917.1" cy="377.8" rx="7.4" ry="6.5" fill="#000"/>
<ellipse cx="952.4" cy="391.7" rx="7.4" ry="6.5" fill="#000"/>
<ellipse cx="987.8" cy="398.8" rx="7.4" ry="6.5" fill="#000"/>
<rect x="598.8" y="30.3" width="407.20000000000005" height="376.4" fill="none" stroke="#000" stroke-width="2"/>
<line x1="598.8" y1="222.5" x2="1006.0" y2="222.5" stroke="#000" stroke-width="2"/>
<g stroke="#000" stroke-width="2">
<line x1="592.2" y1="209.5" x2="598.8" y2="209.5"/>
<line x1="595.6" y1="183.9" x2="598.8" y2="183.9"/>
<line x1="592.2" y1="158.3" x2="598.8" y2="158.3"/>
<line x1="595.6" y1="132.7" x2="598.8" y2="132.7"/>
<line x1="592.2" y1="107.1" x2="598.8" y2="107.1"/>
<line x1="595.6" y1="81.5" x2="598.8" y2="81.5"/>
<line x1="592.2" y1="55.9" x2="598.8" y2="55.9"/>
<line x1="595.6" y1="30.3" x2="598.8" y2="30.3"/>
<line x1="592.2" y1="406.7" x2="598.8" y2="406.7"/>
<line x1="595.6" y1="365.7" x2="598.8" y2="365.7"/>
<line x1="592.2" y1="324.8" x2="598.8" y2="324.8"/>
<line x1="595.6" y1="283.8" x2="598.8" y2="283.8"/>
<line x1="592.2" y1="242.8" x2="598.8" y2="242.8"/>
<line x1="634.2" y1="222.5" x2="634.2" y2="216.9"/>
<line x1="634.2" y1="406.7" x2="634.2" y2="412.7"/>
<line x1="669.6" y1="222.5" x2="669.6" y2="219.5"/>
<line x1="669.6" y1="406.7" x2="669.6" y2="409.9"/>
<line x1="704.9" y1="222.5" x2="704.9" y2="216.9"/>
<line x1="704.9" y1="406.7" x2="704.9" y2="412.7"/>
<line x1="740.3" y1="222.5" x2="740.3" y2="219.5"/>
<line x1="740.3" y1="406.7" x2="740.3" y2="409.9"/>
<line x1="775.6" y1="222.5" x2="775.6" y2="216.9"/>
<line x1="775.6" y1="406.7" x2="775.6" y2="412.7"/>
<line x1="811.0" y1="222.5" x2="811.0" y2="219.5"/>
<line x1="811.0" y1="406.7" x2="811.0" y2="409.9"/>
<line x1="846.4" y1="222.5" x2="846.4" y2="216.9"/>
<line x1="846.4" y1="406.7" x2="846.4" y2="412.7"/>
<line x1="881.7" y1="222.5" x2="881.7" y2="219.5"/>
<line x1="881.7" y1="406.7" x2="881.7" y2="409.9"/>
<line x1="917.1" y1="222.5" x2="917.1" y2="216.9"/>
<line x1="917.1" y1="406.7" x2="917.1" y2="412.7"/>
<line x1="952.4" y1="222.5" x2="952.4" y2="219.5"/>
<line x1="952.4" y1="406.7" x2="952.4" y2="409.9"/>
<line x1="987.8" y1="222.5" x2="987.8" y2="216.9"/>
<line x1="987.8" y1="406.7" x2="987.8" y2="412.7"/>
</g>
<g class="t" text-anchor="end">
<text x="586.6" y="65.9">900</text>
<text x="586.6" y="117.3">700</text>
<text x="586.6" y="167.9">500</text>
<text x="586.6" y="218.7">300</text>
<text x="585.0" y="252.5">16</text>
<text x="585.0" y="333.4">8</text>
<text x="585.0" y="414.0">0</text>
</g>
<g class="t" text-anchor="middle">
<text x="630.8" y="442.3">40</text>
<text x="704.2" y="442.3">80</text>
<text x="777.2" y="442.3">120</text>
<text x="846.8" y="442.3">160</text>
<text x="918.1" y="442.3">200</text>
<text x="987.7" y="442.3">240</text>
<text x="812.7" y="476.8">IDT thickness (nm)</text>
</g>
<text class="t" text-anchor="middle" transform="translate(522.6 130.1) rotate(-90)" style="font-size:29px"><tspan style="font-size:25px">Δf</tspan> (MHz)</text>
<text class="t" transform="translate(533.4 357.8) rotate(-90)"><tspan font-style="italic">k</tspan><tspan style="font-size:17px" dy="3.6" dx="-1.5">eff</tspan><tspan style="font-size:12.5px" dy="-16.1" dx="-10">2</tspan><tspan dy="10.5" dx="-1"> (%)</tspan></text>
<line x1="613.6" y1="49.9" x2="619.9" y2="49.9" stroke="#c5202e" stroke-width="2.3"/>
<line x1="644.1" y1="49.9" x2="650.4" y2="49.9" stroke="#c5202e" stroke-width="2.3"/>
<line x1="613.6" y1="78.7" x2="619.9" y2="78.7" stroke="#000" stroke-width="2.3"/>
<line x1="644.1" y1="78.7" x2="650.4" y2="78.7" stroke="#000" stroke-width="2.3"/>
<line x1="624.4" y1="49.9" x2="639.6" y2="49.9" stroke="#c5202e" stroke-width="2.3"/>
<polygon points="632.0,42.2 624.6,53.2 639.4,53.2" fill="#c5202e"/>
<line x1="622.5" y1="78.7" x2="641.5" y2="78.7" stroke="#000" stroke-width="2.3"/>
<circle cx="632.0" cy="78.7" r="6.6" fill="#000"/>
<text class="t" x="658.7" y="58.2">Cu</text>
<text class="t" x="663.8" y="87.3">Al</text>
<line x1="908.4" y1="245.2" x2="914.6999999999999" y2="245.2" stroke="#c5202e" stroke-width="2.3"/>
<line x1="938.7" y1="245.2" x2="945.0" y2="245.2" stroke="#c5202e" stroke-width="2.3"/>
<line x1="908.4" y1="274.4" x2="914.6999999999999" y2="274.4" stroke="#000" stroke-width="2.3"/>
<line x1="938.7" y1="274.4" x2="945.0" y2="274.4" stroke="#000" stroke-width="2.3"/>
<line x1="919.1" y1="245.2" x2="934.3000000000001" y2="245.2" stroke="#c5202e" stroke-width="2.3"/>
<polygon points="926.7,237.5 919.3,248.5 934.1,248.5" fill="#c5202e"/>
<line x1="917.2" y1="274.4" x2="936.2" y2="274.4" stroke="#000" stroke-width="2.3"/>
<circle cx="926.7" cy="274.4" r="6.6" fill="#000"/>
<text class="t" x="953.4" y="254.5">Cu</text>
<text class="t" x="958.5" y="283.3">Al</text>
</g>
</svg></body></html>
